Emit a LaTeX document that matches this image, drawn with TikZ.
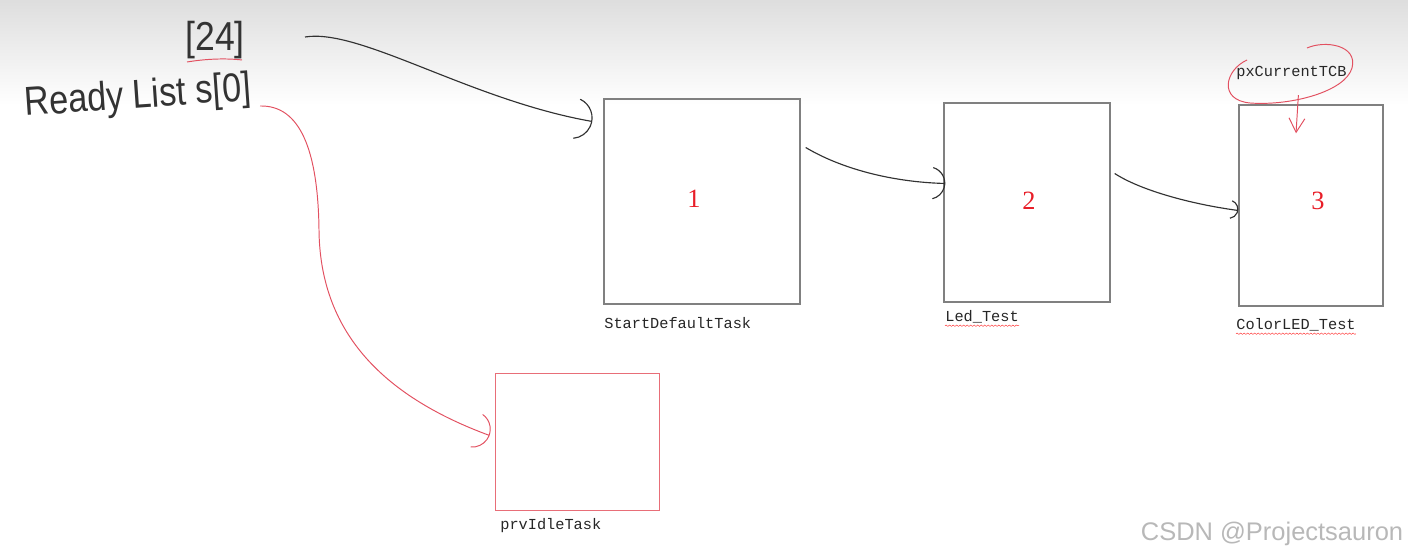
\documentclass[tikz,border=0pt]{standalone}
\usepackage{graphicx}
\usepackage{fontspec}
\setmainfont{Liberation Serif}
\newfontfamily\codefont{Liberation Mono}
\newfontfamily\handfont{Liberation Sans}
\usetikzlibrary{arrows.meta}
\usetikzlibrary{calc}
\usetikzlibrary{decorations.pathmorphing}

\definecolor{boxgray}{RGB}{128,128,128}
\definecolor{inkred}{RGB}{226,80,96}
\definecolor{boxred}{RGB}{232,110,120}
\definecolor{numred}{RGB}{232,30,40}
\definecolor{inkblack}{RGB}{50,50,50}

\tikzset{
	taskbox/.style={draw=boxgray, line width=0.8pt, inner sep=0pt},
	idlebox/.style={draw=boxred, line width=0.5pt, inner sep=0pt},
	tasknum/.style={text=numred, font=\fontsize{15}{15}\selectfont, inner sep=0pt},
	tasklabel/.style={anchor=west, text=black!85, font=\codefont\fontsize{8.7}{9}\selectfont, inner sep=0pt},
	handtext/.style={text=black!80, font=\handfont\fontsize{23}{23}\selectfont, inner sep=0pt},
	blackink/.style={draw=inkblack, line width=0.65pt},
	redink/.style={draw=inkred, line width=0.55pt},
	spellmark/.style={draw=red!80, line width=0.25pt, decorate, decoration={snake, amplitude=0.4pt, segment length=2pt}},
}

\begin{document}
\begin{tikzpicture}[x=0.02cm, y=-0.02cm]
	
		\useasboundingbox (0,0) rectangle (1408,560);
		\shade[top color=black!13, bottom color=white] (0,0) rectangle (1408,105);
		
		% handwritten list
		\node[handtext, anchor=base west, rotate=4] (ready) at (25,116) {\scalebox{0.85}[1]{Ready List s[0]}};
		\node[handtext, anchor=base west] (c24) at (185,51) {\scalebox{0.88}[1]{[24]}};
		\draw[redink] (187,62) .. controls (205,59) and (225,58) .. (242,60);
		\coordinate (listout) at (305,37);
		\coordinate (readyout) at (260,106);
		
		% task boxes
		\node[taskbox, minimum width=3.92cm, minimum height=4.1cm] (start) at (702,201.5) {};
		\node[taskbox, minimum width=3.32cm, minimum height=3.98cm] (led) at (1027,202.5) {};
		\node[taskbox, minimum width=2.88cm, minimum height=4.02cm] (color) at (1311,205.5) {};
		\node[idlebox, minimum width=3.28cm, minimum height=2.74cm] (idle) at (577,441.5) {};
		
		\node[tasknum] (num1) at (694,199) {1};
		\node[tasknum] (num2) at (1029,201) {2};
		\node[tasknum] (num3) at (1318,201) {3};
		
		\node[tasklabel] (startname) at (604,323) {StartDefaultTask};
		\node[tasklabel] (ledname) at (945,317) {Led\_Test};
		\node[tasklabel] (colorname) at (1236,325) {ColorLED\_Test};
		\node[tasklabel] (idlename) at (500,526) {prvIdleTask};
		\node[tasklabel] (tcb) at (1236,73) {pxCurrentTCB};
		
		\draw[spellmark] ($(ledname.base west)+(0,4)$) -- ($(ledname.base east)+(0,4)$);
		\draw[spellmark] ($(colorname.base west)+(0,4)$) -- ($(colorname.base east)+(0,4)$);
		
		% links
		\draw[blackink, -{Arc Barb[width=24pt, length=12pt, arc=150]}] (listout) .. controls (360,28) and (470,100) .. ($(start.west)+(-11,-80)$);
		\draw[blackink, -{Arc Barb[width=19pt, length=9.5pt, arc=150]}] ($(start.east)+(5,-54)$) .. controls (840,168) and (890,182) .. ($(led.west)+(2,-19)$);
		\draw[blackink, -{Arc Barb[width=11pt, length=5.5pt, arc=150]}] ($(led.east)+(4,-29)$) .. controls (1140,190) and (1190,204) .. ($(color.west)+(0,5)$);
		\draw[redink, -{Arc Barb[width=21pt, length=10.5pt, arc=150]}] (readyout) .. controls (300,105) and (318,150) .. (319,230) .. controls (320,330) and (380,395) .. ($(idle.west)+(-5,-6)$);
		
		% current task mark
		\draw[redink] (1247,60) .. controls (1225,70) and (1218,100) .. (1250,103) .. controls (1290,106) and (1345,92) .. (1352,68) .. controls (1358,45) and (1325,40) .. (1307,48);
		\draw[redink, -{Straight Barb[length=8pt, width=9pt]}] ($(tcb.south)+(7,15)$) -- ($(color.north)+(-15,29)$);
		
		\node[font=\handfont\fontsize{14.5}{15}\selectfont, text=black!28, inner sep=0pt] (mark) at (1272,534) {CSDN @Projectsauron};
	
	\end{tikzpicture}
\end{document}
